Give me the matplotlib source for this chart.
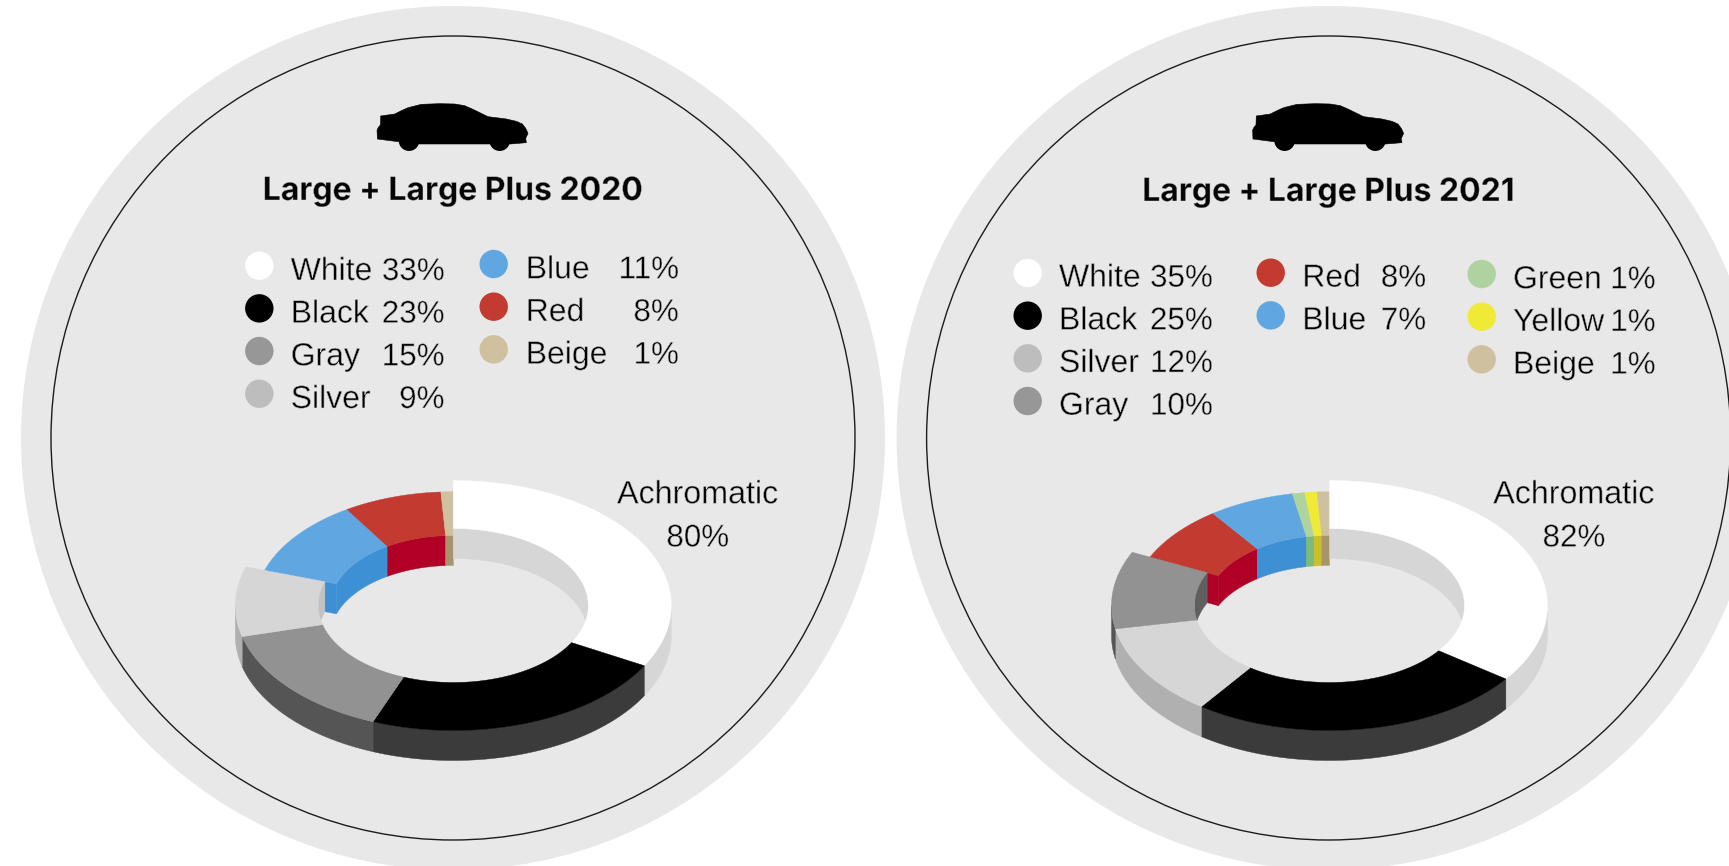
import numpy as np
import matplotlib
matplotlib.use("Agg")
import matplotlib.pyplot as plt
import matplotlib.patheffects as pe
from matplotlib.patches import Circle, Polygon

# Colour shares per model year, clockwise from twelve o'clock
names_2020 = ["White", "Black", "Gray", "Silver", "Blue", "Red", "Beige"]
shares_2020 = [33, 23, 15, 9, 11, 8, 1]
names_2021 = ["White", "Black", "Silver", "Gray", "Red", "Blue", "Green", "Yellow", "Beige"]
shares_2021 = [35, 25, 12, 10, 8, 7, 1, 1, 1]
title_2020 = "Large + Large Plus 2020"
title_2021 = "Large + Large Plus 2021"
achromatic_names = ["White", "Black", "Gray", "Silver"]

BG = "#e8e8e8"
INK = "#000000"
TOP = {"White": "#ffffff", "Black": "#000000", "Gray": "#929292", "Silver": "#d6d6d6",
       "Blue": "#60a7e2", "Red": "#c33a30", "Beige": "#cfc09f", "Green": "#aed2a0",
       "Yellow": "#eeea35"}
WALL_OUT = {"White": "#d6d6d6", "Black": "#3b3b3b", "Gray": "#555555", "Silver": "#b0b0b0"}
WALL_IN = {"White": "#d6d6d6", "Black": "#3b3b3b", "Gray": "#5f5f5f", "Silver": "#c2c2c2",
           "Blue": "#3d90d4", "Red": "#b00025", "Beige": "#a8946c", "Green": "#7ebb78",
           "Yellow": "#cbbf2a"}
SWATCH = dict(TOP, Gray="#979797", Silver="#bdbdbd")

RX, RY, RXI, RYI = 218, 125, 135, 77
DEPTH = 30
CHROMA_SCALE = 0.91
CY = 605.5
DISC_R, RING_R, DISC_Y = 432, 402, 438.0

CAR = np.array([(112, 120), (116, 112), (122, 105), (123, 78), (165, 72), (185, 62), (205, 53),
                (245, 43), (300, 41), (345, 42), (375, 47), (400, 58), (445, 80), (500, 87),
                (530, 94), (548, 102), (558, 115), (565, 130), (558, 145), (560, 158),
                (512, 162), (445, 162), (240, 162), (175, 155), (113, 147)], float)
CAR_WHEELS = [(208, 152), (480, 152)]

fig = plt.figure(figsize=(17.29, 8.66), dpi=100, facecolor="white")
ax = fig.add_axes([0, 0, 1, 1])
ax.set_xlim(0, 1729)
ax.set_ylim(866, 0)
ax.axis("off")

light = [pe.Normal(), pe.Stroke(linewidth=0.42, foreground=BG)]
medium = [pe.Normal(), pe.Stroke(linewidth=0.3, foreground=BG)]


def put(x, y, s, ha="left", size=23.0):
    ax.text(x, y, s, ha=ha, va="baseline", fontsize=size, color=INK,
            family="Liberation Sans", path_effects=light)


def ring_xy(cx, t0, t1, rx, ry):
    t = np.radians(np.linspace(t0, t1, max(2, int(abs(t1 - t0) * 2))))
    return cx + rx * np.sin(t), CY - ry * np.cos(t)


def shade(xs, ys, color, z):
    ax.fill(xs, ys, facecolor=color, edgecolor=color, lw=0.3, zorder=z)


def wall(cx, t0, t1, rx, ry, color, z):
    x, y = ring_xy(cx, t0, t1, rx, ry)
    shade(np.r_[x, x[::-1]], np.r_[y, y[::-1] + DEPTH], color, z)


def top_face(cx, t0, t1, s, color, z):
    xo, yo = ring_xy(cx, t0, t1, RX * s, RY * s)
    xi, yi = ring_xy(cx, t1, t0, RXI * s, RYI * s)
    shade(np.r_[xo, xi], np.r_[yo, yi], color, z)


def donut(cx, names, shares):
    edges = 3.6 * np.r_[0, np.cumsum(shares)]
    first_chroma = True
    for name, t0, t1 in zip(names, edges[:-1], edges[1:]):
        if name in achromatic_names:
            # Inner wall shows on the far half, outer wall on the near half
            a, b = max(t0, 270), t1
            if b > a:
                wall(cx, a, b, RXI, RYI, WALL_IN[name], 5)
            a, b = min(t0, 90), min(t1, 90)
            if b > a:
                wall(cx, a, b, RXI, RYI, WALL_IN[name], 5)
            a, b = max(t0, 90), min(t1, 270)
            if b > a:
                wall(cx, a, b, RX, RY, WALL_OUT[name], 6)
            top_face(cx, t0, t1, 1, TOP[name], 7)
        else:
            # Chromatic slices sit slightly smaller, behind the achromatic ones
            s = CHROMA_SCALE
            wall(cx, t0, t1, RXI * s, RYI * s, WALL_IN[name], 3)
            top_face(cx, t0, t1, s, TOP[name], 4)
            if first_chroma:
                r = np.radians(t0)
                ex = cx + np.array([RXI, RX]) * s * np.sin(r)
                ey = CY - np.array([RYI, RY]) * s * np.cos(r)
                shade(np.r_[ex, ex[::-1]], np.r_[ey, ey[::-1] + DEPTH], WALL_IN[name], 3)
                first_chroma = False


def legend(names, shares, columns):
    i = 0
    for col in columns:
        for row in range(col["count"]):
            name, share = names[i], shares[i]
            ax.add_patch(Circle((col["swatch_x"], col["swatch_y"] + row * 42.67), 14.2,
                                facecolor=SWATCH[name], edgecolor="none", zorder=5))
            base = col["base"] + row * 42.67
            put(col["name_x"], base, name)
            put(col["pct_x"], base, f"{share}%", ha="right", size=22.6)
            i += 1


def car(cx):
    ox = cx - 453.3 + 340
    pts = CAR / 3 + [ox, 90]
    ax.add_patch(Polygon(pts, closed=True, facecolor="black", edgecolor="black", lw=0.4, zorder=5))
    for wx, wy in CAR_WHEELS:
        ax.add_patch(Circle((ox + wx / 3, 90 + wy / 3), 10.3, facecolor="black",
                            edgecolor="none", zorder=5))


def panel(cx, ring_cx, names, shares, title, title_base, columns):
    ax.add_patch(Circle((ring_cx, DISC_Y), DISC_R, facecolor=BG, edgecolor="none", zorder=0))
    ax.add_patch(Circle((ring_cx, DISC_Y), RING_R, facecolor="none", edgecolor="#1c1c1c", lw=1.0, zorder=1))
    car(ring_cx)
    ax.text(ring_cx, title_base, title, ha="center", va="baseline", fontsize=23.0, weight="bold",
            color="#050505", family=["Inter", "Liberation Sans"], path_effects=medium)
    legend(names, shares, columns)
    donut(cx, names, shares)
    total = sum(v for n, v in zip(names, shares) if n in achromatic_names)
    put(cx + 244.5, 503.3, "Achromatic", ha="center", size=23.2)
    put(cx + 244.5, 546.5, f"{total}%", ha="center", size=22.6)


panel(453.3, 453.0, names_2020, shares_2020, title_2020, 200,
      [dict(count=4, swatch_x=259.3, swatch_y=265.7, base=280.0, name_x=290.7, pct_x=444.5),
       dict(count=3, swatch_x=493.7, swatch_y=264.0, base=278.3, name_x=525.7, pct_x=678.8)])
panel(1329.5, 1328.6, names_2021, shares_2021, title_2021, 201,
      [dict(count=4, swatch_x=1027.7, swatch_y=273.0, base=286.7, name_x=1059.0, pct_x=1212.8),
       dict(count=2, swatch_x=1270.7, swatch_y=272.7, base=286.7, name_x=1302.3, pct_x=1426.2),
       dict(count=3, swatch_x=1481.7, swatch_y=274.0, base=288.3, name_x=1513.0, pct_x=1655.5)])

fig.savefig("out.png", dpi=100, facecolor="white")
